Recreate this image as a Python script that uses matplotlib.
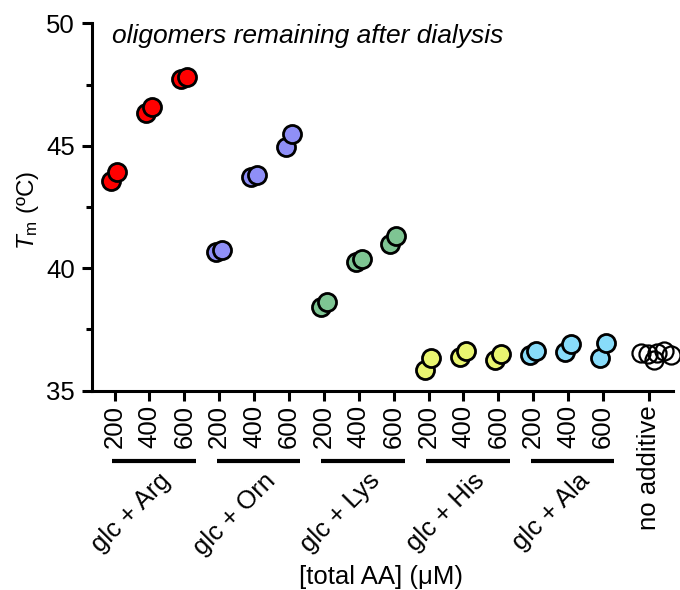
import matplotlib
matplotlib.use('Agg')
import matplotlib.pyplot as plt
import matplotlib.transforms as mtransforms

plt.rcParams['font.family'] = ['Liberation Sans', 'DejaVu Sans']
plt.rcParams['mathtext.fontset'] = 'custom'
plt.rcParams['mathtext.it'] = 'Liberation Sans:italic'
plt.rcParams['mathtext.rm'] = 'Liberation Sans'

# ---------------- data ----------------
groups = ['glc + Arg', 'glc + Orn', 'glc + Lys', 'glc + His', 'glc + Ala']
concentrations = ['200', '400', '600']
colors = ['#ff0000', '#8f8ff7', '#7ec593', '#e9f570', '#88dcfa']
# replicate Tm values (°C) [rep1, rep2] for 200, 400, 600 µM
tm_arg = [[43.56, 43.94], [46.35, 46.60], [47.73, 47.80]]
tm_orn = [[40.65, 40.75], [43.74, 43.81], [44.96, 45.47]]
tm_lys = [[38.41, 38.61], [40.24, 40.39], [40.99, 41.33]]
tm_his = [[35.85, 36.32], [36.39, 36.63], [36.25, 36.50]]
tm_ala = [[36.46, 36.62], [36.59, 36.91], [36.32, 36.94]]
tm_none = [36.55, 36.50, 36.25, 36.55, 36.62, 36.45]
none_label = 'no additive'
title = 'oligomers remaining after dialysis'
xlabel = '[total AA] (\u03bcM)'
ylabel = '$T_{\\mathrm{m}}$ (\u00baC)'

all_groups = [tm_arg, tm_orn, tm_lys, tm_his, tm_ala]

# ---------------- figure ----------------
fig = plt.figure(figsize=(6.8, 5.9), dpi=100)
ax = fig.add_axes([0.1346, 0.3378, 0.8547, 0.6227])

rep_offsets = [-0.09, 0.08]
none_pos = 15.32
none_offsets = [-0.23, -0.03, 0.14, 0.23, 0.43, 0.63]

tick_pos = []
tick_labels = []
for g, (vals, col) in enumerate(zip(all_groups, colors)):
    for c, reps in enumerate(vals):
        xc = 3 * g + c
        tick_pos.append(xc)
        tick_labels.append(concentrations[c])
        for off, v in zip(rep_offsets, reps):
            ax.plot(xc + off, v, 'o', ms=13, mfc=col, mec='black', mew=2.0,
                    clip_on=False, zorder=3)
tick_pos.append(none_pos)
tick_labels.append(none_label)
for off, v in zip(none_offsets, tm_none):
    ax.plot(none_pos + off, v, 'o', ms=13, mfc='none', mec='black', mew=1.6,
            clip_on=False, zorder=3)

ax.set_xlim(-0.66, 16.0)
ax.set_ylim(35, 50)
for s in ['top', 'right']:
    ax.spines[s].set_visible(False)
for s in ['left', 'bottom']:
    ax.spines[s].set_linewidth(2.2)

ax.set_yticks([35, 40, 45, 50])
ax.set_yticks([37.5, 42.5, 47.5], minor=True)
ax.set_xticks(tick_pos)
ax.set_xticklabels(tick_labels, rotation=90, fontsize=18.5)
ax.tick_params(axis='y', which='major', length=7, width=2.2, labelsize=18.5, pad=5)
ax.tick_params(axis='y', which='minor', length=4.5, width=2.2)
ax.tick_params(axis='x', which='major', length=7, width=2.2, pad=3.5)

trans = mtransforms.blended_transform_factory(ax.transData, ax.transAxes)
for g, name in enumerate(groups):
    ax.plot([3 * g - 0.07, 3 * g + 2.33], [-0.19, -0.19], transform=trans,
            color='black', lw=3.0, solid_capstyle='butt', clip_on=False)
    ax.text(3 * g + 1.5, -0.235, name, transform=trans, rotation=45,
            rotation_mode='anchor', ha='right', va='center', fontsize=18.5)

ax.text(0.035, 0.997, title, transform=ax.transAxes, style='italic',
        ha='left', va='top', fontsize=19)

fig.text(0.56, 1 - 577 / 590, xlabel, ha='center', va='center', fontsize=18.5)
fig.text(28 / 680, 1 - 210 / 590, ylabel, rotation=90, ha='center',
         va='center', fontsize=17.5)

fig.savefig('out.png', dpi=100)
